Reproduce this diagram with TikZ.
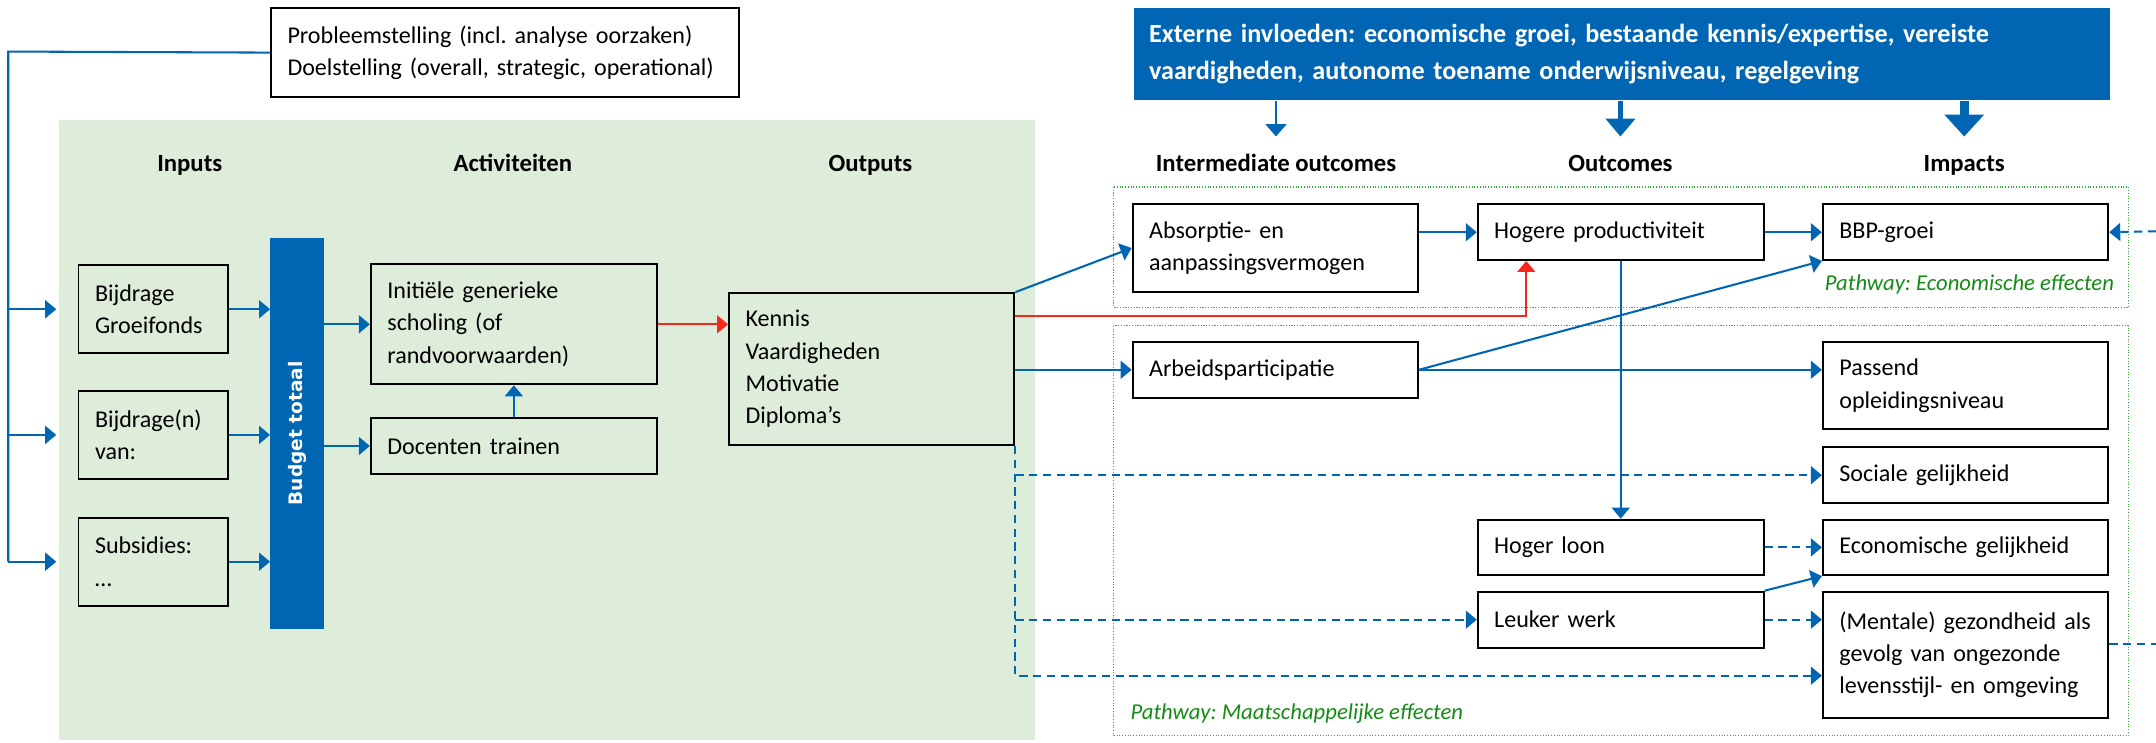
\documentclass[tikz,border=0pt]{standalone}
\usepackage{fontspec}
\usepackage{graphicx}
\setmainfont{Carlito}
\newfontfamily\budfont{DejaVu Sans}
\usetikzlibrary{arrows.meta}
\definecolor{rblue}{RGB}{0,102,179}
\definecolor{gbg}{RGB}{221,237,218}
\definecolor{rred}{RGB}{245,40,30}
\definecolor{gline}{RGB}{60,170,60}
\definecolor{gtext}{RGB}{20,140,20}
\frenchspacing
\begin{document}
\begin{tikzpicture}[x=1pt,y=-1pt,
  tipa/.style={-{Triangle[length=8pt,width=13pt]}},
  conn/.style={draw=rblue, line width=1.5pt},
  arr/.style={conn, tipa},
  darr/.style={arr, dash pattern=on 6pt off 4pt},
  dline/.style={conn, dash pattern=on 6pt off 4pt},
  box/.style={draw=black, line width=1.4pt, anchor=north west, inner xsep=12pt, inner ysep=0pt, align=left, font=\fontsize{17.5}{23.5}\selectfont},
  wbox/.style={box, fill=white},
  sz/.style n args={3}{minimum width=#1pt, minimum height=#2pt, text width=#3pt},
  hdr/.style={anchor=base, inner sep=0pt, text height=12.5pt, text depth=4pt, font=\bfseries\fontsize{18}{20}\selectfont},
  pathway/.style={anchor=base west, inner sep=0pt, text=gtext, font=\itshape\fontsize{16.5}{18}\selectfont},
  region/.style={draw=gline, line width=0.8pt, dash pattern=on 0.8pt off 1.2pt},
]
\useasboundingbox (0,0) rectangle (1568,540);

% background regions
\fill[gbg] (43,87) rectangle (753,538);
\draw[region] (810,136) rectangle (1548,223.5);
\draw[region] (810,237) rectangle (1548,535);

% headers
\node[hdr] (hIN) at (138,125) {Inputs};
\node[hdr] (hAC) at (373,125) {Activiteiten};
\node[hdr] (hOU) at (633,125) {Outputs};
\node[hdr] (hIO) at (928,125) {Intermediate outcomes};
\node[hdr] (hOC) at (1178.5,125) {Outcomes};
\node[hdr] (hIM) at (1428.5,125) {Impacts};

% top boxes
\node[wbox, sz={340.5}{64.5}{316.5}] (prob) at (196.4,5.3)
  {Probleemstelling (incl. analyse oorzaken)\\Doelstelling (overall, strategic, operational)};
\node[box, draw=none, fill=rblue, text=white, inner xsep=11pt, sz={710}{67}{688},
  font=\bfseries\fontsize{19}{27}\selectfont] (ext) at (824,5)
  {Externe invloeden: economische groei, bestaande kennis/expertise, vereiste\\vaardigheden, autonome toename onderwijsniveau, regelgeving};

% inputs
\node[box, sz={108.9}{64}{84.9}] (in1) at (56.4,192.2) {Bijdrage\\Groeifonds};
\node[box, sz={108.9}{64}{84.9}] (in2) at (56.4,283.6) {Bijdrage(n)\\van:};
\node[box, sz={108.9}{64}{84.9}] (in3) at (56.4,375.8) {Subsidies:\\…};

% budget bar
\node[fill=rblue, anchor=north west, inner sep=0pt, minimum width=39.1pt, minimum height=284pt,
  text=white, font=\budfont\fontsize{13.5}{15}\selectfont\bfseries] (bud) at (196.4,173)
  {\rotatebox{90}{Budget totaal}};

% activities
\node[box, sz={208}{87.3}{184}] (act1) at (269,191.5) {Initiële generieke\\scholing (of\\randvoorwaarden)};
\node[box, sz={208}{40.3}{184}] (act2) at (269,303.5) {Docenten trainen};

% outputs
\node[box, sz={207.5}{110.5}{183.5}] (out) at (529.5,212.5) {Kennis\\Vaardigheden\\Motivatie\\Diploma’s};

% intermediate outcomes
\node[wbox, sz={207.5}{63.4}{183.5}] (abs) at (823,148) {Absorptie- en\\aanpassingsvermogen};
\node[wbox, sz={207.5}{40.5}{183.5}] (arb) at (823,248) {Arbeidsparticipatie};

% outcomes
\node[wbox, sz={208}{40.4}{184}] (hog) at (1074,148) {Hogere productiviteit};
\node[wbox, sz={208}{40.4}{184}] (loon) at (1074,377.2) {Hoger loon};
\node[wbox, sz={208}{40.7}{184}] (leu) at (1074,429.6) {Leuker werk};

% impacts
\node[wbox, sz={207.6}{40.4}{183.6}] (bbp) at (1325,148) {BBP-groei};
\node[wbox, sz={207.6}{63.5}{183.6}] (pas) at (1325,248) {Passend\\opleidingsniveau};
\node[wbox, sz={207.6}{41}{183.6}] (soc) at (1325,324.4) {Sociale gelijkheid};
\node[wbox, sz={207.6}{40.4}{183.6}] (eco) at (1325,377.2) {Economische gelijkheid};
\node[wbox, sz={207.6}{92}{183.6}] (ment) at (1325,429.6) {(Mentale) gezondheid als\\gevolg van ongezonde\\levensstijl- en omgeving};

% pathway labels
\node[pathway] (pw1) at (1327,211) {Pathway: Economische effecten};
\node[pathway] (pw2) at (822,523) {Pathway: Maatschappelijke effecten};

% external influence arrows
\draw[conn, line width=2pt, -{Triangle[length=9pt,width=15pt]}, shorten >=13pt] (ext.south -| hIO) -- (hIO.north);
\draw[conn, line width=4pt, -{Triangle[length=13pt,width=21pt]}, shorten >=13pt] (ext.south -| hOC) -- (hOC.north);
\draw[conn, line width=6.5pt, -{Triangle[length=16pt,width=28pt]}, shorten >=13pt] (ext.south -| hIM) -- (hIM.north);

% feed from problem statement
\coordinate (spine) at (6,37.5);
\draw[conn] (prob.west) -- (spine) -- (spine |- in3.west);
\foreach \n in {in1,in2,in3} \draw[arr, shorten >=15.5pt] (spine |- \n.west) -- (\n.west);
\foreach \n in {in1,in2,in3} \draw[arr] (\n.east) -- (\n.east -| bud.west);

% budget to activities
\draw[arr] (bud.east |- act1.west) -- (act1.west);
\draw[arr] (bud.east |- act2.west) -- (act2.west);
\draw[arr] (act2.north) -- (act1.south);
\draw[arr, color=rred] (act1.east) -- (act1.east -| out.west);

% outputs onwards
\draw[arr] (out.north east) -- (abs.west);
\coordinate (rturn) at (1110,229.8);
\draw[arr, color=rred] (out.east |- rturn) -- (rturn) -- (rturn |- hog.south);
\draw[arr] (out.east |- arb.west) -- (arb.west);
\coordinate (dy) at (0,491.4);
\draw[darr] (out.south east) -- (out.south east |- dy) -- (ment.west |- dy);
\draw[darr] (out.east |- soc.west) -- (soc.west);
\draw[darr] (out.east |- leu.west) -- (leu.west);

% intermediate to outcomes / impacts
\draw[arr] (abs.east |- hog.west) -- (hog.west);
\draw[arr] (hog.east) -- (bbp.west);
\draw[arr] (arb.east) -- (bbp.south west);
\draw[arr] (arb.east) -- (pas.west |- arb.east);
\draw[arr] (hog.south) -- (loon.north);
\draw[darr] (loon.east) -- (eco.west);
\draw[arr] (leu.north east) -- (eco.south west);
\draw[darr] (leu.east) -- (ment.west |- leu.east);

% feedback loop
\coordinate (fbin) at (1568,168.2);
\coordinate (fbout) at (1568,468.5);
\draw[darr] (fbin) -- (bbp.east);
\draw[dline] (ment.east |- fbout) -- (fbout);
\end{tikzpicture}
\end{document}
